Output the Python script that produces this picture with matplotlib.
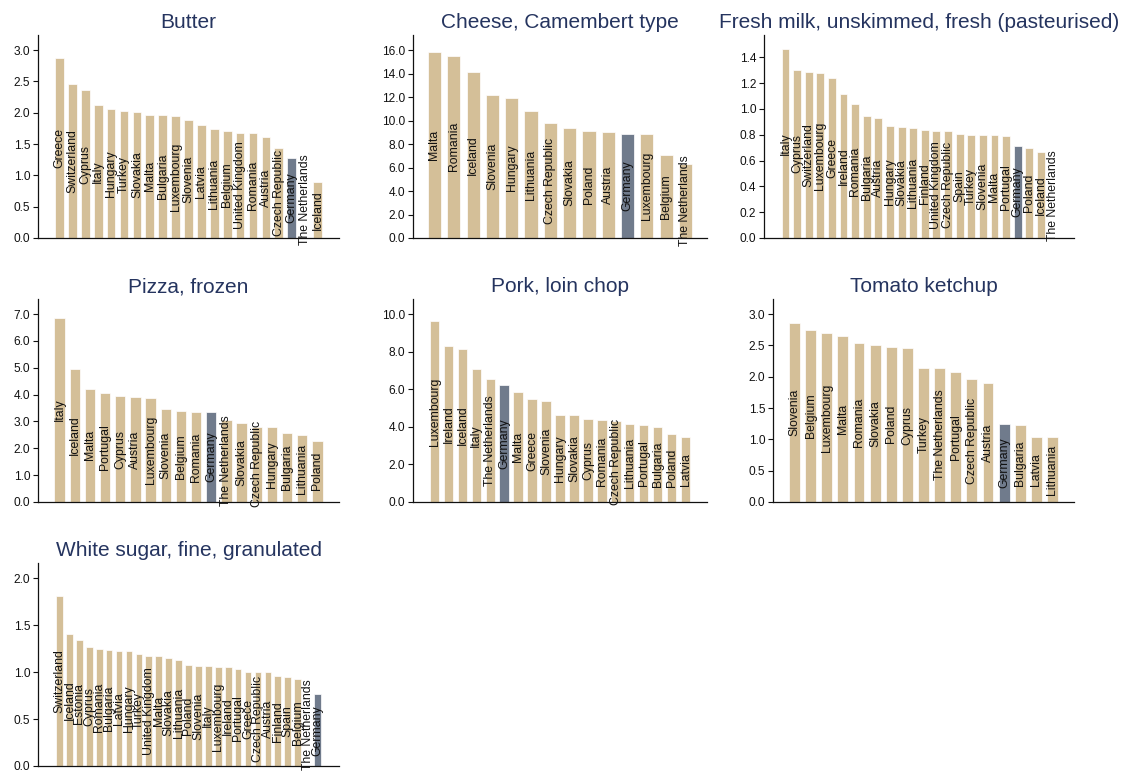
from __future__ import annotations

from dataclasses import dataclass

import matplotlib as mpl
import matplotlib.pyplot as plt
from matplotlib.ticker import FormatStrFormatter, MultipleLocator


# =============================================================================
# Price levels per product, countries sorted from most to least expensive
# =============================================================================
BUTTER_COUNTRIES = ["Greece", "Switzerland", "Cyprus", "Italy", "Hungary", "Turkey", "Slovakia", "Malta",
                    "Bulgaria", "Luxembourg", "Slovenia", "Latvia", "Lithuania", "Belgium", "United Kingdom",
                    "Romania", "Austria", "Czech Republic", "Germany", "The Netherlands", "Iceland"]
BUTTER_VALUES = [2.88, 2.45, 2.36, 2.13, 2.06, 2.03, 2.01, 1.97, 1.97, 1.95, 1.88, 1.80, 1.74, 1.70, 1.68,
                 1.67, 1.61, 1.44, 1.28, 1.24, 0.90]

CHEESE_COUNTRIES = ["Malta", "Romania", "Iceland", "Slovenia", "Hungary", "Lithuania", "Czech Republic",
                    "Slovakia", "Poland", "Austria", "Germany", "Luxembourg", "Belgium", "The Netherlands"]
CHEESE_VALUES = [15.83, 15.55, 14.13, 12.18, 11.95, 10.79, 9.80, 9.37, 9.15, 9.03, 8.86, 8.86, 7.08, 6.34]

MILK_COUNTRIES = ["Italy", "Cyprus", "Switzerland", "Luxembourg", "Greece", "Ireland", "Romania", "Bulgaria",
                  "Austria", "Hungary", "Slovakia", "Lithuania", "Finland", "United Kingdom", "Czech Republic",
                  "Spain", "Turkey", "Slovenia", "Malta", "Portugal", "Germany", "Poland", "Iceland",
                  "The Netherlands"]
MILK_VALUES = [1.465, 1.304, 1.289, 1.278, 1.237, 1.115, 1.037, 0.944, 0.933, 0.866, 0.858, 0.850, 0.837,
               0.827, 0.827, 0.804, 0.796, 0.796, 0.796, 0.788, 0.710, 0.697, 0.666, 0.66]

PIZZA_COUNTRIES = ["Italy", "Iceland", "Malta", "Portugal", "Cyprus", "Austria", "Luxembourg", "Slovenia",
                   "Belgium", "Romania", "Germany", "The Netherlands", "Slovakia", "Czech Republic", "Hungary",
                   "Bulgaria", "Lithuania", "Poland"]
PIZZA_VALUES = [6.86, 4.97, 4.22, 4.07, 3.94, 3.91, 3.89, 3.47, 3.40, 3.35, 3.35, 3.06, 2.95, 2.80, 2.78,
                2.57, 2.49, 2.29]

PORK_COUNTRIES = ["Luxembourg", "Ireland", "Iceland", "Italy", "The Netherlands", "Germany", "Malta", "Greece",
                  "Slovenia", "Hungary", "Slovakia", "Cyprus", "Romania", "Czech Republic", "Lithuania",
                  "Portugal", "Bulgaria", "Poland", "Latvia"]
PORK_VALUES = [9.61, 8.31, 8.14, 7.09, 6.54, 6.23, 5.84, 5.47, 5.36, 4.65, 4.62, 4.40, 4.37, 4.30, 4.17,
               4.10, 4.00, 3.62, 3.46]

KETCHUP_COUNTRIES = ["Slovenia", "Belgium", "Luxembourg", "Malta", "Romania", "Slovakia", "Poland", "Cyprus",
                     "Turkey", "The Netherlands", "Portugal", "Czech Republic", "Austria", "Germany", "Bulgaria",
                     "Latvia", "Lithuania"]
KETCHUP_VALUES = [2.85, 2.75, 2.70, 2.65, 2.54, 2.50, 2.48, 2.45, 2.14, 2.14, 2.08, 1.96, 1.90, 1.25, 1.23,
                  1.04, 1.04]

SUGAR_COUNTRIES = ["Switzerland", "Iceland", "Estonia", "Cyprus", "Romania", "Bulgaria", "Latvia", "Hungary",
                   "Turkey", "United Kingdom", "Malta", "Slovakia", "Lithuania", "Poland", "Slovenia", "Italy",
                   "Luxembourg", "Ireland", "Portugal", "Greece", "Czech Republic", "Austria", "Finland",
                   "Spain", "Belgium", "The Netherlands", "Germany"]
SUGAR_VALUES = [1.81, 1.406, 1.338, 1.267, 1.249, 1.235, 1.221, 1.221, 1.189, 1.167, 1.167, 1.146, 1.125,
                1.078, 1.064, 1.064, 1.057, 1.057, 1.028, 1.0, 1.0, 1.0, 0.954, 0.947, 0.925, 0.88, 0.762]


@dataclass(frozen=True)
class FigureParameters:
    width_px: int = 1131
    height_px: int = 772
    dpi: int = 100
    bar_colour: str = "#d4bf98"
    home_colour: str = "#707b8c"
    title_colour: str = "#25345f"
    title_size: float = 15
    tick_size: float = 8.6
    label_size: float = 8.8
    bar_width: float = 0.68
    side_pad_px: float = 21.5


FP = FigureParameters()
HOME = "Germany"

# title, countries, values, y max, tick step, no-bar entries, axes box in pixels (left, top, right, bottom)
PANELS = [
    ("Butter", BUTTER_COUNTRIES, BUTTER_VALUES, 3.24, 0.5, {"The Netherlands"}, (38, 35, 339, 238)),
    ("Cheese, Camembert type", CHEESE_COUNTRIES, CHEESE_VALUES, 17.3, 2.0, set(), (413, 35, 707, 238)),
    ("Fresh milk, unskimmed, fresh (pasteurised)", MILK_COUNTRIES, MILK_VALUES, 1.573, 0.2,
     {"The Netherlands"}, (764, 35, 1074, 238)),
    ("Pizza, frozen", PIZZA_COUNTRIES, PIZZA_VALUES, 7.56, 1.0, set(), (38, 299, 339, 502)),
    ("Pork, loin chop", PORK_COUNTRIES, PORK_VALUES, 10.8, 2.0, set(), (413, 299, 707, 502)),
    ("Tomato ketchup", KETCHUP_COUNTRIES, KETCHUP_VALUES, 3.24, 0.5, set(), (773, 299, 1074, 502)),
    ("White sugar, fine, granulated", SUGAR_COUNTRIES, SUGAR_VALUES, 2.16, 0.5, {"The Netherlands"},
     (38, 563, 339, 766)),
]


def setup_style() -> None:
    mpl.rcParams.update({
        "font.family": ["Liberation Sans", "DejaVu Sans"],
        "axes.linewidth": 0.9,
        "axes.edgecolor": "#111111",
    })


def draw_panel(fig: plt.Figure, title, countries, values, ymax, step, no_bar, box) -> None:
    left, top, right, bottom = box
    ax = fig.add_axes([left / FP.width_px, 1 - bottom / FP.height_px,
                       (right - left) / FP.width_px, (bottom - top) / FP.height_px])
    n = len(countries)
    xs = list(range(n))
    colours = []
    for name in countries:
        if name in no_bar:
            colours.append("white")
        elif name == HOME:
            colours.append(FP.home_colour)
        else:
            colours.append(FP.bar_colour)
    ax.bar(xs, values, width=FP.bar_width, color=colours, edgecolor="white", linewidth=0.5, zorder=2)

    for x, name, val in zip(xs, countries, values):
        ax.text(x, val / 2, name, rotation=90, ha="center", va="center", fontsize=FP.label_size,
                color="#111111", clip_on=False, zorder=3)

    # constant pixel padding between the spine and the outer bars
    width_px = right - left
    pad = FP.side_pad_px * (n - 1) / (width_px - 2 * FP.side_pad_px)
    ax.set_xlim(-pad, n - 1 + pad)
    ax.set_ylim(0, ymax)
    ax.yaxis.set_major_locator(MultipleLocator(step))
    ax.yaxis.set_major_formatter(FormatStrFormatter("%.1f"))
    ax.set_xticks([])
    ax.tick_params(axis="y", labelsize=FP.tick_size, length=3.5, width=0.8, colors="#111111", pad=2)
    for side in ("top", "right"):
        ax.spines[side].set_visible(False)
    ax.set_title(title, fontsize=FP.title_size, color=FP.title_colour, pad=5)


def make_figure() -> None:
    setup_style()
    fig = plt.figure(figsize=(FP.width_px / FP.dpi, FP.height_px / FP.dpi), dpi=FP.dpi)
    for panel in PANELS:
        draw_panel(fig, *panel)
    fig.savefig("out.png", dpi=FP.dpi)
    plt.close(fig)


if __name__ == "__main__":
    make_figure()
